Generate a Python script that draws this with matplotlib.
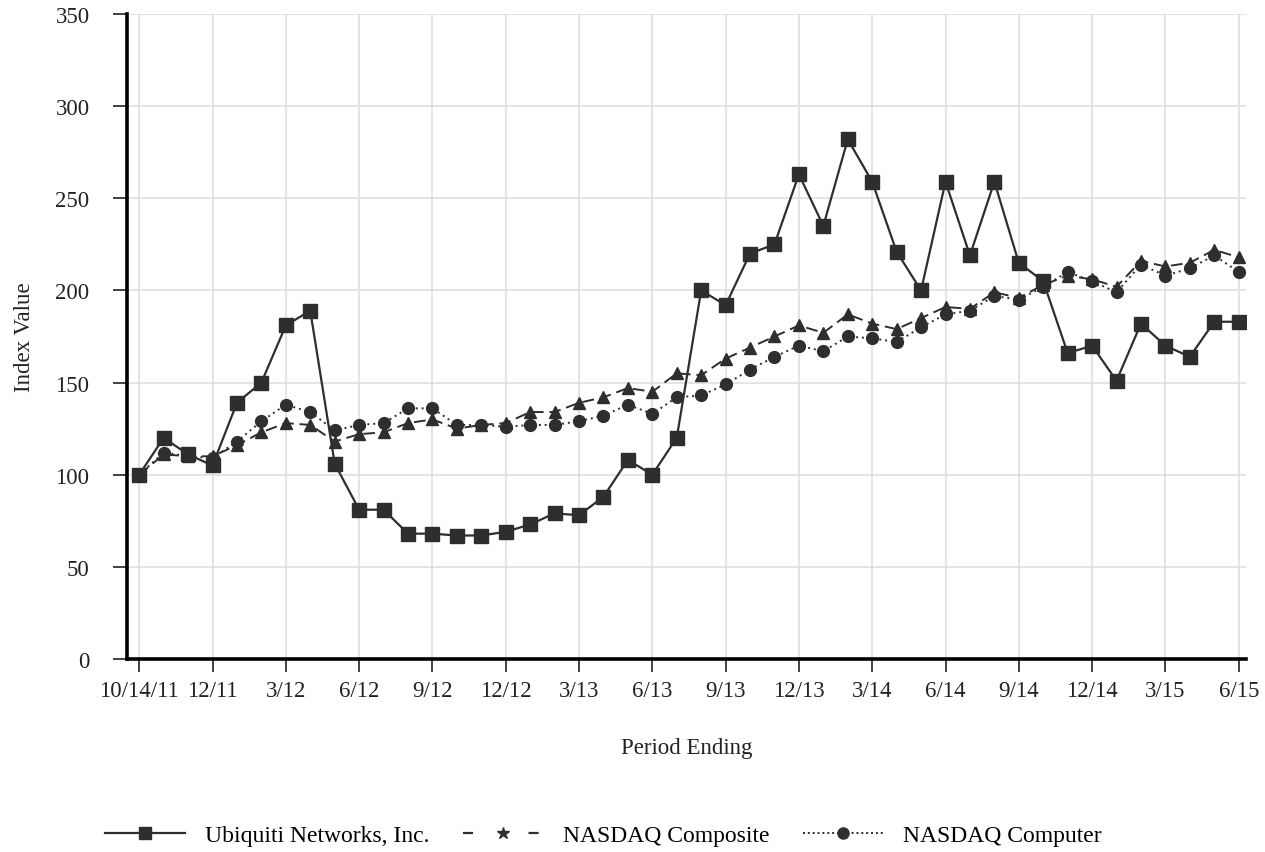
import matplotlib
matplotlib.use("Agg")
import matplotlib.pyplot as plt
from matplotlib.lines import Line2D

# period labels: 10/14/11 then month ends 10/11 .. 6/15
tick_labels = ["10/14/11", "12/11", "3/12", "6/12", "9/12", "12/12", "3/13",
               "6/13", "9/13", "12/13", "3/14", "6/14", "9/14", "12/14",
               "3/15", "6/15"]
tick_index = [0, 3, 6, 9, 12, 15, 18, 21, 24, 27, 30, 33, 36, 39, 42, 45]

ubnt = [100, 120, 111, 105, 139, 150, 181, 189, 106, 81, 81, 68, 68, 67, 67,
        69, 73, 79, 78, 88, 108, 100, 120, 200, 192, 220, 225, 263, 235, 282,
        259, 221, 200, 259, 219, 259, 215, 205, 166, 170, 151, 182, 170, 164,
        183, 183]
nasdaq_comp = [100, 111, 110, 110, 116, 123, 128, 127, 118, 122, 123, 128,
               130, 125, 127, 128, 134, 134, 139, 142, 147, 145, 155, 154,
               163, 169, 175, 181, 177, 187, 182, 179, 185, 191, 190, 199,
               196, 203, 208, 206, 202, 216, 213, 215, 222, 218]
nasdaq_computer = [100, 112, 110, 109, 118, 129, 138, 134, 124, 127, 128,
                   136, 136, 127, 127, 126, 127, 127, 129, 132, 138, 133,
                   142, 143, 149, 157, 164, 170, 167, 175, 174, 172, 180,
                   187, 189, 197, 195, 202, 210, 205, 199, 214, 208, 212,
                   219, 210]
names = ["Ubiquiti Networks, Inc.", "NASDAQ Composite", "NASDAQ Computer"]

plt.rcParams["font.family"] = ["Liberation Serif", "DejaVu Serif"]
FS = 16.5
INK = "#2e2e2e"
TXT = "#222222"

fig = plt.figure(figsize=(12.65, 8.53), dpi=100)
ax = fig.add_axes([0.1004, 0.2263, 0.8846, 0.7561])

x = list(range(len(ubnt)))
ax.plot(x, ubnt, color=INK, lw=1.6, marker="s", ms=9.5, zorder=5)
ax.plot(x, nasdaq_comp, color=INK, lw=1.4, ls=(0, (6, 3)), marker="^",
        ms=8, zorder=4)
ax.plot(x, nasdaq_computer, color=INK, lw=1.4, ls=(0, (1, 2)), marker="o",
        ms=8.5, zorder=4)

ax.set_xlim(-0.5, 45.3)
ax.set_ylim(0, 350)
ax.set_yticks(range(0, 351, 50))
ax.set_xticks(tick_index)
ax.set_xticklabels(tick_labels)

ax.grid(True, color="#dddddd", lw=1.1)
ax.set_axisbelow(True)
for side in ["top", "right"]:
    ax.spines[side].set_visible(False)
ax.spines["left"].set_linewidth(2.6)
ax.spines["bottom"].set_linewidth(2.6)
ax.spines["left"].set_color("black")
ax.spines["bottom"].set_color("black")

ax.tick_params(axis="x", length=9, width=1.2, pad=6, labelsize=FS,
               colors=TXT)
ax.tick_params(axis="y", length=10, width=1.2, pad=17, labelsize=FS,
               colors=TXT)
for t in ax.get_yticklines():
    t.set_color("#999999")

ax.set_xlabel("Period Ending", fontsize=FS, labelpad=26, color=TXT)
ax.set_ylabel("Index Value", fontsize=FS, labelpad=15, color=TXT)

# legend keys as drawn in the original (composite shown with a star)
handles = [
    Line2D([], [], color=INK, lw=1.6, marker="s", ms=8),
    Line2D([], [], color=INK, lw=1.6, ls=(0, (4.5, 25)), marker="*", ms=9),
    Line2D([], [], color=INK, lw=1.4, ls=(0, (1, 1.5)), marker="o", ms=8),
]
fig.legend(handles, names, loc="center", bbox_to_anchor=(0.477, 1 - 836 / 853),
           ncol=3, frameon=False, fontsize=17, handlelength=3.4,
           handletextpad=0.85, columnspacing=1.4)

fig.savefig("out.png", dpi=100)
